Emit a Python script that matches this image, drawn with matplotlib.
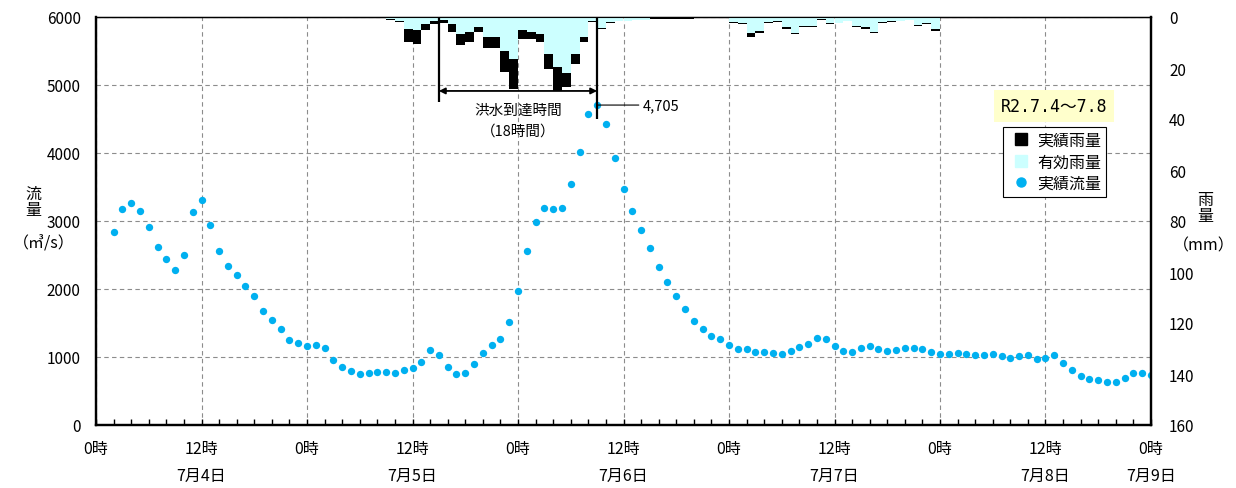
import matplotlib
matplotlib.use('Agg')
import matplotlib.pyplot as plt
from matplotlib.lines import Line2D
import numpy as np

plt.rcParams['font.family'] = ['Noto Sans CJK JP', 'DejaVu Sans']

# ---- data ----
flow_hours = list(range(2, 121))  # hours from 7/4 0時
flow = [2834, 3172, 3260, 3152, 2907, 2613, 2441, 2275, 2495, 3127,
        3314, 2936, 2554, 2338, 2206, 2039, 1892, 1681, 1544, 1412,
        1255, 1211, 1167, 1172, 1132, 961, 858, 789, 745, 765,
        784, 775, 770, 814, 838, 926, 1108, 1034, 858, 755,
        760, 897, 1054, 1172, 1270, 1520, 1975, 2554, 2990, 3191,
        3176, 3191, 3539, 4020, 4569, 4705, 4431, 3922, 3471, 3142,
        2863, 2608, 2324, 2108, 1893, 1706, 1529, 1412, 1304, 1265,
        1181, 1118, 1122, 1074, 1069, 1059, 1044, 1083, 1152, 1191,
        1279, 1260, 1167, 1093, 1069, 1132, 1162, 1122, 1088, 1108,
        1137, 1137, 1113, 1070, 1045, 1040, 1064, 1049, 1025, 1025,
        1040, 1010, 990, 1010, 1029, 966, 990, 1029, 916, 813,
        716, 672, 657, 637, 637, 687, 760, 760, 731]

rain_hours = list(range(32, 97))  # end hour of each hourly interval
rain_actual = [0.4, 0.5, 1.0, 2.0, 9.9, 10.6, 5.0, 2.7, 2.2, 5.7,
               11.0, 9.9, 5.7, 12.2, 12.2, 21.4, 28.2, 8.6, 8.6, 9.9,
               20.4, 28.9, 27.6, 18.4, 9.9, 2.0, 4.8, 2.2, 1.7, 1.7,
               1.3, 1.3, 0.8, 0.8, 0.6, 0.6, 0.6, 0.5, 0.5, 0.5,
               0.5, 2.2, 2.7, 7.7, 6.4, 2.2, 1.9, 4.8, 6.8, 3.8,
               3.8, 1.1, 2.7, 2.5, 1.7, 3.8, 4.8, 6.4, 2.2, 1.9,
               1.7, 1.3, 3.4, 2.7, 5.4]
rain_effective = [0.2, 0.3, 0.8, 1.7, 4.7, 5.0, 2.7, 1.7, 1.0, 2.7,
                  6.7, 6.0, 3.8, 8.0, 8.0, 13.2, 16.5, 5.0, 5.7, 6.7,
                  14.5, 19.7, 22.0, 14.5, 8.0, 1.7, 4.2, 1.9, 1.4, 1.4,
                  1.0, 1.0, 0.5, 0.5, 0.35, 0.35, 0.35, 0.3, 0.3, 0.3,
                  0.3, 1.9, 2.4, 6.1, 5.4, 1.9, 1.6, 4.1, 6.1, 3.5,
                  3.5, 0.8, 2.4, 2.2, 1.4, 3.5, 4.1, 5.8, 1.9, 1.6,
                  1.4, 1.0, 3.1, 2.4, 4.8]

arrival_time = 18  # hours
xtick_hours = list(range(0, 121, 12))
xtick_labels = ['0時', '12時\n7月4日', '0時', '12時\n7月5日', '0時', '12時\n7月6日',
                '0時', '12時\n7月7日', '0時', '12時\n7月8日', '0時\n7月9日']
legend_labels = ['実績雨量', '有効雨量', '実績流量']

FLOW_C = '#00B0F0'
EFF_C = '#CCFFFF'

W, H = 1236, 489
fig = plt.figure(figsize=(W / 100, H / 100), dpi=100)
ax = fig.add_axes([96 / W, 1 - 426 / H, 1055 / W, 408 / H])
ax.set_xlim(0, 120)
ax.set_ylim(0, 6000)
ax.grid(True, color='#8c8c8c', linestyle=(0, (4, 3)), linewidth=0.8)
ax.set_axisbelow(True)
ax.scatter(flow_hours, flow, s=28, color=FLOW_C, linewidths=0, zorder=3)

ax.set_yticks(range(0, 6001, 1000))
ax.set_xticks(xtick_hours)
ax.set_xticklabels(xtick_labels, linespacing=1.75)
ax.set_xticks(range(0, 121, 2), minor=True)
ax.tick_params(axis='x', which='both', direction='in', length=4, width=1, labelsize=11.5, pad=11)
ax.tick_params(axis='y', length=0, labelsize=11, pad=11)

for s in ['left', 'bottom', 'right']:
    ax.spines[s].set_linewidth(1.6)
ax.spines['top'].set_linewidth(1.0)

# peak annotation
ipk = int(np.argmax(flow))
pk_h, pk_v = flow_hours[ipk], flow[ipk]
ax.annotate(f'{pk_v:,}', xy=(pk_h, pk_v), xytext=(33, 0), textcoords='offset points',
            ha='left', va='center', fontsize=10.5,
            arrowprops=dict(arrowstyle='-', color='black', lw=0.8, shrinkA=1, shrinkB=0))

# rainfall (right axis, inverted)
ax2 = ax.twinx()
ax2.set_ylim(160, 0)
ax2.set_yticks(range(0, 161, 20))
ax2.tick_params(axis='y', length=0, labelsize=11, pad=13)
for s in ['left', 'bottom', 'right']:
    ax2.spines[s].set_linewidth(1.6)
left_edges = np.array(rain_hours) - 1
ax2.bar(left_edges, rain_actual, width=1, align='edge', color='black', linewidth=0)
ax2.bar(left_edges, rain_effective, width=1, align='edge', color=EFF_C, linewidth=0)

# arrival time marker
t0 = pk_h - arrival_time
ax2.plot([t0, t0], [0, 33.3], color='black', lw=1.6, solid_capstyle='butt')
ax2.plot([pk_h, pk_h], [0, 40], color='black', lw=1.6, solid_capstyle='butt')
ax2.annotate('', xy=(t0, 29), xytext=(pk_h, 29),
             arrowprops=dict(arrowstyle='<|-|>', color='black', lw=1.3,
                             mutation_scale=9, shrinkA=0, shrinkB=0))
xm = (t0 + pk_h) / 2
ax2.text(xm, 36.5, '洪水到達時間', ha='center', va='center', fontsize=10.5)
ax2.text(xm, 44.5, f'（{arrival_time}時間）', ha='center', va='center', fontsize=10.5)

# period label
ax2.text(0.908, 0.782, 'R2.7.4～7.8', transform=ax2.transAxes, ha='center', va='center',
         fontsize=12, family=['DejaVu Sans Mono', 'Noto Sans CJK JP'],
         bbox=dict(facecolor='#FFFFCC', edgecolor='none', boxstyle='square,pad=0.4'))

handles = [Line2D([], [], ls='', marker='s', color='black', markersize=8),
           Line2D([], [], ls='', marker='s', color=EFF_C, markersize=8),
           Line2D([], [], ls='', marker='o', color=FLOW_C, markersize=6.5)]
leg = ax2.legend(handles, legend_labels, loc='upper left', bbox_to_anchor=(0.86, 0.73),
                 frameon=True, fancybox=False, edgecolor='black', framealpha=1,
                 borderaxespad=0, handlelength=1.6, handletextpad=0.25, fontsize=11.5,
                 borderpad=0.3, labelspacing=0.28)
leg.get_frame().set_linewidth(0.8)

# axis titles
fig.text(33 / W, 1 - 194 / H, '流', ha='center', va='center', fontsize=11.5)
fig.text(33 / W, 1 - 211 / H, '量', ha='center', va='center', fontsize=11.5)
fig.text(44 / W, 1 - 244 / H, '（㎥/s）', ha='center', va='center', fontsize=11.5)
fig.text(1205 / W, 1 - 200 / H, '雨', ha='center', va='center', fontsize=11.5)
fig.text(1205 / W, 1 - 217 / H, '量', ha='center', va='center', fontsize=11.5)
fig.text(1204 / W, 1 - 246 / H, '（mm）', ha='center', va='center', fontsize=11.5)

fig.savefig('out.png', dpi=100)
